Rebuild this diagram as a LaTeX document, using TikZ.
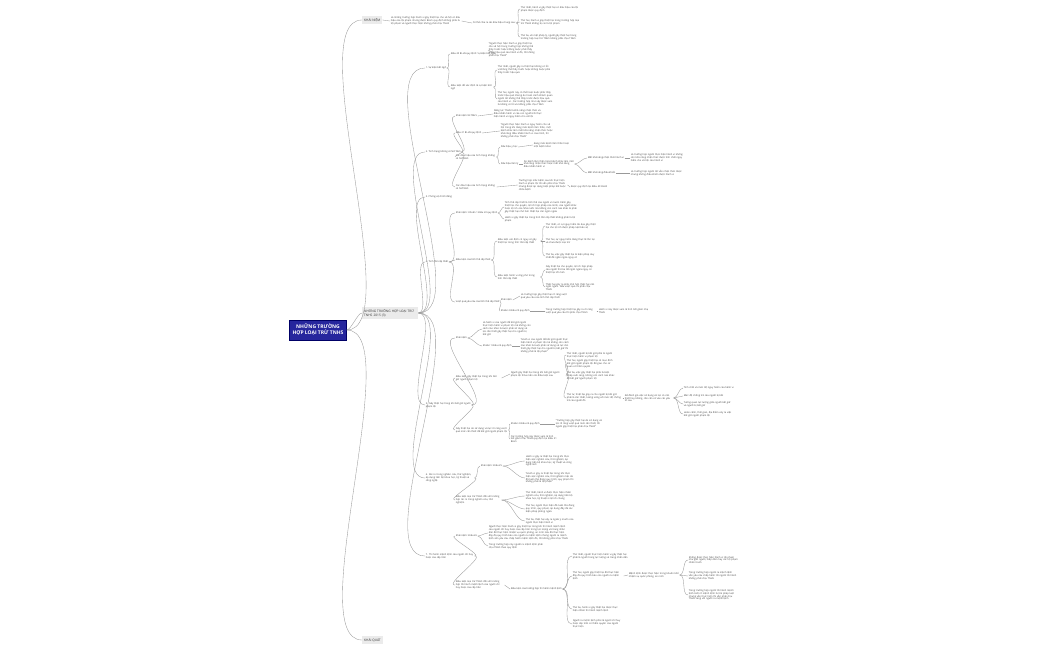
\documentclass[tikz,border=0pt]{standalone}
\usepackage{fontspec}
\setmainfont{Open Sans}
\begin{document}
\begin{tikzpicture}[x=1pt,y=-1pt,
  txt/.style={anchor=west,inner sep=0.6pt,font=\fontsize{2.4}{2.9}\selectfont,text=black!75,align=left},
  lab/.style={txt},
  l1/.style={anchor=west,fill=black!8,inner sep=2pt,font=\fontsize{3.2}{3.8}\selectfont,text=black!80,align=left},
  root/.style={fill=blue!55!black!85,draw=blue!40!black,text=white,font=\bfseries\fontsize{5}{6}\selectfont,align=center,inner sep=3pt,minimum width=52pt,minimum height=20pt},
  ln/.style={draw=black!40,line width=0.35pt},
  c/.style={ln,out=0,in=180,looseness=0.8}]
\useasboundingbox (0,0) rectangle (1050,650);
\fill[white] (0,0) rectangle (1050,650);
\node[root] (R) at (318,330) {NHỮNG TRƯỜNG\\HỢP LOẠI TRỪ TNHS};
\node[l1] (A) at (362,20) {KHÁI NIỆM};
\node[l1,text width=52pt] (B) at (362,313) {NHỮNG TRƯỜNG HỢP LOẠI TRỪ TNHS 2015 (3)};
\node[l1] (C) at (362,640) {KHÁI QUÁT};
\foreach \n in {A,B,C} \draw[c,looseness=0.5] (R.east) to (\n.west);
% KHAI NIEM
\node[txt,text width=70pt] (A1) at (390,21) {Là những trường hợp hành vi gây thiệt hại cho xã hội có dấu hiệu của tội phạm nhưng được BLHS quy định không phải là tội phạm và người thực hiện không phải chịu TNHS};
\node[txt] (A2) at (472,23) {Có thể chia ra các dấu hiệu chung sau:};
\node[txt,text width=60pt] (A3) at (520,9) {Thứ nhất, hành vi gây thiệt hại có dấu hiệu của tội phạm được quy định};
\node[txt,text width=60pt] (A4) at (520,22) {Thứ hai, hành vi gây thiệt hại trong trường hợp loại trừ TNHS không bị coi là tội phạm};
\node[txt,text width=60pt] (A5) at (520,37) {Thứ ba, về mặt pháp lý, người gây thiệt hại trong trường hợp loại trừ TNHS không phải chịu TNHS};
\draw[ln] (A.east)--(A1.west);\draw[ln] (A1.east)--(A2.west);
\foreach \n in {A3,A4,A5} \draw[c] (A2.east) to (\n.west);
% L2
\node[lab] (B1) at (425,68) {1. Sự kiện bất ngờ};
\node[lab] (B2) at (425,152) {2. Tình trạng không có NLTNHS};
\node[lab] (B3) at (425,197) {3. Phòng vệ chính đáng};
\node[lab] (B4) at (425,262) {4. Tình thế cấp thiết};
\node[lab,text width=45pt] (B5) at (425,405) {5. Gây thiệt hại trong khi bắt giữ người phạm tội};
\node[lab,text width=48pt] (B6) at (425,478) {6. Rủi ro trong nghiên cứu, thử nghiệm, áp dụng tiến bộ khoa học, kỹ thuật và công nghệ};
\node[lab,text width=48pt] (B7) at (425,556) {7. Thi hành mệnh lệnh của người chỉ huy hoặc của cấp trên};
\foreach \n in {B1,B2,B3,B4,B5,B6,B7} \draw[c,looseness=0.6] (B.east) to (\n.west);
% B1
\node[lab] (B1a) at (450,54) {Điều 20 BLHS quy định: Sự kiện bất ngờ};
\node[txt,text width=48pt] (B1a1) at (488,50) {“Người thực hiện hành vi gây thiệt hại cho xã hội trong trường hợp không thể thấy trước hoặc không buộc phải thấy trước hậu quả của hành vi đó, thì không phải chịu TNHS”};
\node[lab,text width=42pt] (B1b) at (450,87) {Điều kiện để xác định là sự kiện bất ngờ};
\node[txt,text width=55pt] (B1b1) at (497,70) {Thứ nhất, người gây ra thiệt hại không có lỗi vì không thể thấy trước hoặc không buộc phải thấy trước hậu quả};
\node[txt,text width=55pt] (B1b2) at (497,99) {Thứ hai, người này có thể hoặc buộc phải thấy trước hậu quả nhưng do hoàn cảnh khách quan người đó không thể thấy trước được hậu quả của hành vi. Các trường hợp như vậy được xem là không có lỗi và không phải chịu TNHS};
\draw[c] (B1.east) to (B1a.west);\draw[c] (B1.east) to (B1b.west);
\draw[ln] (B1a.east)--(B1a1.west);\draw[c] (B1b.east) to (B1b1.west);\draw[c] (B1b.east) to (B1b2.west);
% B2
\node[lab] (B2a) at (455,116) {Khái niệm NLTNHS};
\node[txt,text width=48pt] (B2a1) at (493,114) {Năng lực TNHS là khả năng nhận thức và điều khiển hành vi của con người khi thực hiện hành vi nguy hiểm cho xã hội};
\node[lab] (B2b) at (455,133) {Điều 21 BLHS quy định};
\node[txt,text width=52pt] (B2b1) at (500,131) {“Người thực hiện hành vi nguy hiểm cho xã hội trong khi đang mắc bệnh tâm thần, một bệnh khác làm mất khả năng nhận thức hoặc khả năng điều khiển hành vi của mình, thì không phải chịu TNHS”};
\node[lab,text width=40pt] (B2c) at (455,157) {Các dấu hiệu của tình trạng không có NLTNHS};
\node[lab] (B2c1) at (500,147) {Dấu hiệu y học};
\node[txt,text width=40pt] (B2c1a) at (533,145) {Đang mắc bệnh tâm thần hoặc một bệnh khác};
\node[lab] (B2c2) at (500,164) {Dấu hiệu tâm lý};
\node[txt,text width=50pt] (B2c2a) at (523,164) {Do bệnh tâm thần hoặc bệnh khác làm mất khả năng nhận thức hoặc mất khả năng điều khiển hành vi};
\node[lab] (B2c2b) at (587,158) {Mất khả năng nhận thức hành vi};
\node[txt,text width=55pt] (B2c2b1) at (630,158) {Là trường hợp người thực hiện hành vi không còn khả năng nhận thức được tính chất nguy hiểm cho xã hội của hành vi};
\node[lab] (B2c2c) at (587,173) {Mất khả năng điều khiển};
\node[txt,text width=55pt] (B2c2c1) at (630,173) {Là trường hợp người đó vẫn nhận thức được nhưng không điều khiển được hành vi};
\node[lab,text width=40pt] (B2d) at (455,187) {Các dấu hiệu của tình trạng không có NLTNHS};
\node[txt,text width=48pt] (B2d1) at (518,185) {Trường hợp mắc bệnh sau khi thực hiện hành vi phạm tội thì vẫn phải chịu TNHS nhưng được áp dụng biện pháp bắt buộc chữa bệnh};
\node[txt,text width=40pt] (B2d2) at (570,187) {Được quy định tại Điều 49 BLHS};
\foreach \n in {B2a,B2b,B2c,B2d} \draw[c] (B2.east) to (\n.west);
\draw[ln] (B2a.east)--(B2a1.west);\draw[ln] (B2b.east)--(B2b1.west);
\draw[c] (B2c.east) to (B2c1.west);\draw[c] (B2c.east) to (B2c2.west);
\draw[ln] (B2c1.east)--(B2c1a.west);\draw[ln] (B2c2.east)--(B2c2a.west);
\draw[c] (B2c2a.east) to (B2c2b.west);\draw[c] (B2c2a.east) to (B2c2c.west);
\draw[ln] (B2c2b.east)--(B2c2b1.west);\draw[ln] (B2c2c.east)--(B2c2c1.west);
\draw[ln] (B2d.east)--(B2d1.west);\draw[ln] (B2d1.east)--(B2d2.west);
% B4
\node[lab] (B4a) at (455,213) {Khái niệm: Khoản 1 Điều 23 quy định};
\node[txt,text width=72pt] (B4a1) at (504,207) {Tình thế cấp thiết là tình thế của người vì muốn tránh gây thiệt hại cho quyền, lợi ích hợp pháp của mình, của người khác hoặc lợi ích của Nhà nước mà không còn cách nào khác là phải gây thiệt hại nhỏ hơn thiệt hại cần ngăn ngừa};
\node[txt,text width=72pt] (B4a2) at (504,219) {Hành vi gây thiệt hại trong tình thế cấp thiết không phải là tội phạm};
\node[lab] (B4b) at (455,260) {Điều kiện của tình thế cấp thiết};
\node[lab,text width=42pt] (B4b1) at (497,241) {Điều kiện xác định có nguy cơ gây thiệt hại trong tình thế cấp thiết};
\node[txt,text width=50pt] (B4b1a) at (545,226) {Thứ nhất, có sự nguy hiểm đe dọa gây thiệt hại cho lợi ích được pháp luật bảo vệ};
\node[txt,text width=50pt] (B4b1b) at (545,241) {Thứ hai, sự nguy hiểm đang thực tế tồn tại và chưa được loại trừ};
\node[txt,text width=50pt] (B4b1c) at (545,256) {Thứ ba, việc gây thiệt hại là biện pháp duy nhất để ngăn ngừa nguy cơ};
\node[lab,text width=42pt] (B4b2) at (497,277) {Điều kiện hành vi ứng phó trong tình thế cấp thiết};
\node[txt,text width=50pt] (B4b2a) at (545,270) {Gây thiệt hại cho quyền, lợi ích hợp pháp của người thứ ba để ngăn ngừa nguy cơ thiệt hại lớn hơn};
\node[txt,text width=50pt] (B4b2b) at (545,287) {Thiệt hại gây ra phải nhỏ hơn thiệt hại cần ngăn ngừa. Nếu vượt quá thì phải chịu TNHS};
\node[lab] (B4c) at (455,302) {Vượt quá yêu cầu của tình thế cấp thiết};
\node[lab] (B4c1) at (500,300) {Khái niệm};
\node[txt,text width=50pt] (B4c1a) at (520,296) {Là trường hợp gây thiệt hại rõ ràng vượt quá yêu cầu của tình thế cấp thiết};
\node[lab] (B4c2) at (500,311) {Khoản 2 Điều 23 quy định};
\node[txt,text width=50pt] (B4c2a) at (545,311) {Trong trường hợp thiệt hại gây ra rõ ràng vượt quá yêu cầu thì phải chịu TNHS};
\node[txt,text width=50pt] (B4c2b) at (598,311) {Hành vi này được xem là tình tiết giảm nhẹ TNHS};
\foreach \n in {B4a,B4b,B4c} \draw[c] (B4.east) to (\n.west);
\draw[c] (B4a.east) to (B4a1.west);\draw[c] (B4a.east) to (B4a2.west);
\draw[c] (B4b.east) to (B4b1.west);\draw[c] (B4b.east) to (B4b2.west);
\foreach \n in {B4b1a,B4b1b,B4b1c} \draw[c] (B4b1.east) to (\n.west);
\foreach \n in {B4b2a,B4b2b} \draw[c] (B4b2.east) to (\n.west);
\draw[c] (B4c.east) to (B4c1.west);\draw[c] (B4c.east) to (B4c2.west);
\draw[ln] (B4c1.east)--(B4c1a.west);\draw[ln] (B4c2.east)--(B4c2a.west);\draw[ln] (B4c2a.east)--(B4c2b.west);
% B5
\node[lab] (B5a) at (455,338) {Khái niệm};
\node[txt,text width=48pt] (B5a1) at (482,329) {Là hành vi của người để bắt giữ người thực hiện hành vi phạm tội mà không còn cách nào khác là buộc phải sử dụng vũ lực cần thiết gây thiệt hại cho người bị bắt giữ};
\node[lab] (B5b) at (482,346) {Khoản 1 Điều 24 quy định};
\node[txt,text width=48pt] (B5b1) at (520,346) {“Hành vi của người để bắt giữ người thực hiện hành vi phạm tội mà không còn cách nào khác là buộc phải sử dụng vũ lực cần thiết gây thiệt hại cho người bị bắt giữ thì không phải là tội phạm”};
\node[lab,text width=45pt] (B5c) at (455,378) {Điều kiện gây thiệt hại trong khi bắt giữ người phạm tội};
\node[txt,text width=55pt] (B5c1) at (510,374) {Người gây thiệt hại trong khi bắt giữ người phạm tội thỏa mãn các điều kiện sau};
\node[txt,text width=48pt] (B5c1a) at (566,355) {Thứ nhất, người bị bắt giữ phải là người thực hiện hành vi phạm tội};
\node[txt,text width=48pt] (B5c1b) at (566,364) {Thứ hai, người gây thiệt hại có mục đích bắt giữ người phạm tội để giao cho cơ quan có thẩm quyền};
\node[txt,text width=48pt] (B5c1c) at (566,376) {Thứ ba, việc gây thiệt hại phải là biện pháp cuối cùng, không còn cách nào khác để bắt giữ người phạm tội};
\node[txt,text width=55pt] (B5c1d) at (566,398) {Thứ tư, thiệt hại gây ra cho người bị bắt giữ phải là cần thiết, tương xứng với mức độ chống trả của người đó};
\node[txt,text width=48pt] (B5c1d1) at (624,398) {Để đánh giá việc sử dụng vũ lực có cần thiết hay không, cần căn cứ vào các yếu tố sau};
\node[txt,text width=50pt] (B5c1d1a) at (683,388) {Tính chất và mức độ nguy hiểm của hành vi};
\node[txt,text width=50pt] (B5c1d1b) at (683,396) {Mức độ chống trả của người bị bắt};
\node[txt,text width=50pt] (B5c1d1c) at (683,404) {Tương quan lực lượng giữa người bắt giữ và người bị bắt giữ};
\node[txt,text width=50pt] (B5c1d1d) at (683,414) {Hoàn cảnh, thời gian, địa điểm xảy ra việc bắt giữ người phạm tội};
\node[lab,text width=52pt] (B5d) at (455,430) {Gây thiệt hại do sử dụng vũ lực rõ ràng vượt quá mức cần thiết để bắt giữ người phạm tội};
\node[lab] (B5d1) at (510,424) {Khoản 2 Điều 24 quy định};
\node[txt,text width=48pt] (B5d1a) at (555,424) {“Trường hợp gây thiệt hại do sử dụng vũ lực rõ ràng vượt quá mức cần thiết, thì người gây thiệt hại phải chịu TNHS”};
\node[txt,text width=48pt] (B5d2) at (510,439) {Các trường hợp này được xem là tình tiết giảm nhẹ TNHS quy định tại Điều 51 BLHS};
\foreach \n in {B5a,B5c,B5d} \draw[c] (B5.east) to (\n.west);
\draw[c] (B5a.east) to (B5a1.west);\draw[c] (B5a.east) to (B5b.west);\draw[ln] (B5b.east)--(B5b1.west);
\draw[ln] (B5c.east)--(B5c1.west);
\foreach \n in {B5c1a,B5c1b,B5c1c,B5c1d} \draw[c] (B5c1.east) to (\n.west);
\draw[ln] (B5c1d.east)--(B5c1d1.west);
\foreach \n in {B5c1d1a,B5c1d1b,B5c1d1c,B5c1d1d} \draw[c] (B5c1d1.east) to (\n.west);
\draw[c] (B5d.east) to (B5d1.west);\draw[c] (B5d.east) to (B5d2.west);\draw[ln] (B5d1.east)--(B5d1a.west);
% B6
\node[lab] (B6a) at (480,466) {Khái niệm: Điều 25};
\node[txt,text width=48pt] (B6a1) at (525,461) {Hành vi gây ra thiệt hại trong khi thực hiện việc nghiên cứu, thử nghiệm, áp dụng tiến bộ khoa học, kỹ thuật và công nghệ mới};
\node[txt,text width=48pt] (B6a2) at (525,478) {“Hành vi gây ra thiệt hại trong khi thực hiện việc nghiên cứu, thử nghiệm mặc dù đã tuân thủ đúng quy trình, quy phạm thì không phải là tội phạm”};
\node[lab,text width=45pt] (B6b) at (455,500) {Điều kiện loại trừ TNHS đối với trường hợp rủi ro trong nghiên cứu, thử nghiệm};
\node[txt,text width=50pt] (B6b1) at (525,496) {Thứ nhất, hành vi được thực hiện nhằm nghiên cứu, thử nghiệm, áp dụng tiến bộ khoa học, kỹ thuật vì lợi ích chung};
\node[txt,text width=50pt] (B6b2) at (525,509) {Thứ hai, người thực hiện đã tuân thủ đúng quy trình, quy phạm, áp dụng đầy đủ các biện pháp phòng ngừa};
\node[txt,text width=50pt] (B6b3) at (525,521) {Thứ ba, thiệt hại xảy ra ngoài ý muốn của người thực hiện hành vi};
\draw[c] (B6.east) to (B6a.west);\draw[c] (B6.east) to (B6b.west);
\draw[c] (B6a.east) to (B6a1.west);\draw[c] (B6a.east) to (B6a2.west);
\foreach \n in {B6b1,B6b2,B6b3} \draw[c] (B6b.east) to (\n.west);
% B7
\node[lab] (B7a) at (455,536) {Khái niệm: Điều 26};
\node[txt,text width=80pt] (B7a1) at (488,533) {Người thực hiện hành vi gây thiệt hại trong khi thi hành mệnh lệnh của người chỉ huy hoặc của cấp trên trong lực lượng vũ trang nhân dân để thực hiện nhiệm vụ quốc phòng, an ninh nếu đã thực hiện đầy đủ quy trình báo cáo người ra mệnh lệnh nhưng người ra mệnh lệnh vẫn yêu cầu chấp hành mệnh lệnh đó, thì không phải chịu TNHS};
\node[txt,text width=55pt] (B7a2) at (488,546) {Trong trường hợp này người ra mệnh lệnh phải chịu TNHS theo quy định};
\node[lab,text width=48pt] (B7b) at (455,585) {Điều kiện loại trừ TNHS đối với trường hợp thi hành mệnh lệnh của người chỉ huy hoặc của cấp trên};
\node[lab] (B7b1) at (510,589) {Điều kiện của trường hợp thi hành mệnh lệnh};
\node[txt,text width=55pt] (B7b1a) at (572,556) {Thứ nhất, người thực hiện hành vi gây thiệt hại phải là người trong lực lượng vũ trang nhân dân};
\node[txt,text width=50pt] (B7b1b) at (572,576) {Thứ hai, người gây thiệt hại đã thực hiện đầy đủ quy trình báo cáo người ra mệnh lệnh};
\node[txt,text width=50pt] (B7b1b1) at (628,575) {Mệnh lệnh được thực hiện trong khuôn khổ nhiệm vụ quốc phòng, an ninh};
\node[txt,text width=50pt] (B7b1b1a) at (688,560) {Không được thực hiện hành vi tội phạm như giết người, hiếp dâm hay các tội phạm chiến tranh};
\node[txt,text width=50pt] (B7b1b1b) at (688,576) {Trong trường hợp người ra mệnh lệnh vẫn yêu cầu chấp hành thì người thi hành không phải chịu TNHS};
\node[txt,text width=50pt] (B7b1b1c) at (688,595) {Trong trường hợp người thi hành mệnh lệnh biết rõ mệnh lệnh là trái pháp luật nhưng vẫn thực hiện thì vẫn phải chịu TNHS cùng với người ra mệnh lệnh};
\node[txt,text width=50pt] (B7b1c) at (572,609) {Thứ ba, hành vi gây thiệt hại được thực hiện nhằm thi hành mệnh lệnh};
\node[txt,text width=50pt] (B7b1d) at (572,624) {Người ra mệnh lệnh phải là người chỉ huy hoặc cấp trên có thẩm quyền của người thực hiện};
\draw[c] (B7.east) to (B7a.west);\draw[c] (B7.east) to (B7b.west);
\draw[c] (B7a.east) to (B7a1.west);\draw[c] (B7a.east) to (B7a2.west);
\draw[ln] (B7b.east)--(B7b1.west);
\foreach \n in {B7b1a,B7b1b,B7b1c,B7b1d} \draw[c] (B7b1.east) to (\n.west);
\draw[ln] (B7b1b.east)--(B7b1b1.west);
\foreach \n in {B7b1b1a,B7b1b1b,B7b1b1c} \draw[c] (B7b1b1.east) to (\n.west);
\end{tikzpicture}
\end{document}
